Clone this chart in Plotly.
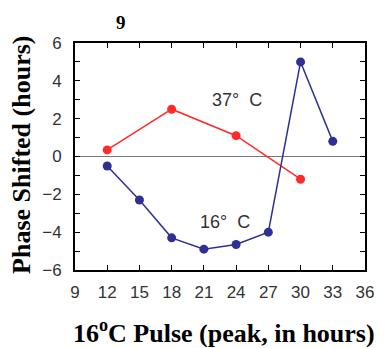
import plotly.graph_objects as go

x_red = [12, 18, 24, 30]
y_red = [0.35, 2.5, 1.1, -1.2]
x_blue = [12, 15, 18, 21, 24, 27, 30, 33]
y_blue = [-0.5, -2.3, -4.3, -4.9, -4.65, -4.0, 5.0, 0.8]
x_ticks = [9, 12, 15, 18, 21, 24, 27, 30, 33, 36]
y_ticks = [-6, -4, -2, 0, 2, 4, 6]

fig = go.Figure()
fig.add_trace(go.Scatter(x=x_red, y=y_red, mode="lines+markers",
                         line=dict(color="#ff2a2a", width=1.5),
                         marker=dict(color="#ff2a2a", size=9)))
fig.add_trace(go.Scatter(x=x_blue, y=y_blue, mode="lines+markers",
                         line=dict(color="#2e3192", width=1.5),
                         marker=dict(color="#2e3192", size=9)))

tickfont = dict(family="Liberation Sans, Arial", size=17, color="#333333")
fig.update_layout(
    width=385, height=348,
    margin=dict(l=75, r=11, t=43, b=78),
    paper_bgcolor="white", plot_bgcolor="white",
    showlegend=False,
    xaxis=dict(range=[9, 36], tickvals=x_ticks, ticks="inside", ticklen=5,
               tickcolor="black", showline=True, linecolor="black", linewidth=1.8,
               mirror="ticks", showgrid=False, zeroline=False, tickfont=tickfont,
               ticklabelstandoff=6),
    yaxis=dict(range=[-6, 6], tickvals=y_ticks, ticks="inside", ticklen=5,
               tickcolor="black", showline=True, linecolor="black", linewidth=1.8,
               mirror="ticks", showgrid=False, zeroline=True, zerolinecolor="#777777",
               zerolinewidth=1, tickfont=tickfont, ticklabelstandoff=8,
               minor=dict(dtick=1, tick0=0, ticks="inside", ticklen=5, tickcolor="black")),
)

fig.add_annotation(text="37°  C", x=24.1, y=3.0, xref="x", yref="y", showarrow=False,
                   font=dict(family="Liberation Sans, Arial", size=18, color="#333333"))
fig.add_annotation(text="16°  C", x=23.0, y=-3.45, xref="x", yref="y", showarrow=False,
                   font=dict(family="Liberation Sans, Arial", size=18, color="#333333"))
fig.add_annotation(text="<b>9</b>", x=0, y=1, xref="paper", yref="paper",
                   xanchor="center", yanchor="middle",
                   xshift=46, yshift=21, showarrow=False,
                   font=dict(family="Liberation Serif, Times New Roman", size=19, color="black"))
fig.add_annotation(text="<b>Phase Shifted (hours)</b>", x=0, y=0.507, xref="paper", yref="paper",
                   xanchor="center", yanchor="middle",
                   xshift=-53, textangle=-90, showarrow=False,
                   font=dict(family="Liberation Serif, Times New Roman", size=26, color="black"))
fig.add_annotation(text="<b>16<sup>o</sup>C Pulse (peak, in hours)</b>", x=0.5, y=0,
                   xref="paper", yref="paper", xanchor="center", yanchor="middle",
                   xshift=4, yshift=-61, showarrow=False,
                   font=dict(family="Liberation Serif, Times New Roman", size=26, color="black"))

fig.write_html("out.html")
